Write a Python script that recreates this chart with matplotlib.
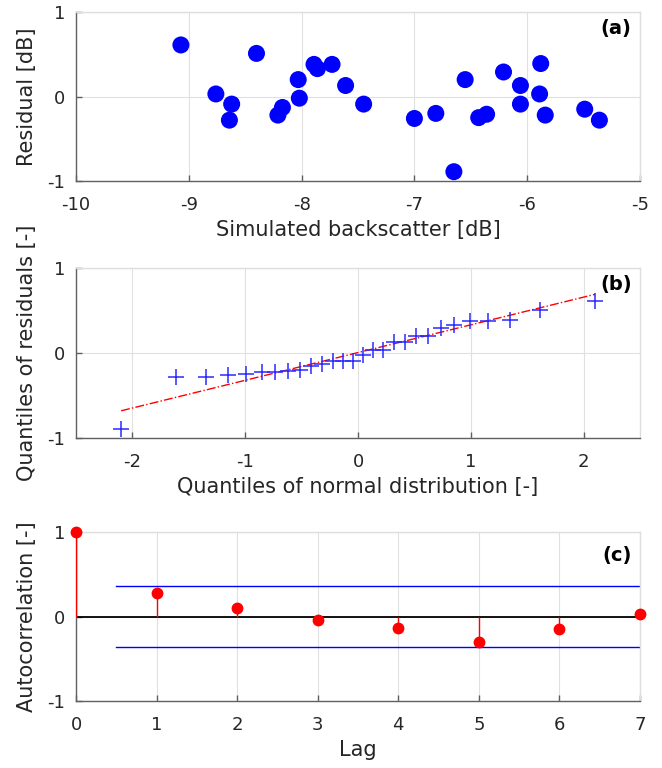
import matplotlib
matplotlib.use("Agg")
import matplotlib.pyplot as plt
import numpy as np

plt.rcParams['font.family'] = ['DejaVu Sans']
plt.rcParams['axes.unicode_minus'] = False

# Panel (a): residual vs simulated backscatter
sim_bs = [-9.07, -8.76, -8.62, -8.64, -8.40, -8.21, -8.17, -8.03, -8.02, -7.89,
          -7.86, -7.73, -7.61, -7.45, -7.00, -6.81, -6.65, -6.55, -6.43, -6.36,
          -6.21, -6.06, -6.06, -5.88, -5.89, -5.84, -5.49, -5.36]
residual = [0.61, 0.03, -0.09, -0.28, 0.51, -0.22, -0.13, 0.20, -0.02, 0.38,
            0.33, 0.38, 0.13, -0.09, -0.26, -0.20, -0.89, 0.20, -0.25, -0.21,
            0.29, 0.13, -0.09, 0.39, 0.03, -0.22, -0.15, -0.28]

# Panel (b): QQ plot
normal_q = [-2.10, -1.61, -1.345, -1.15, -0.992, -0.854, -0.732, -0.619, -0.514, -0.414,
            -0.319, -0.225, -0.135, -0.045, 0.045, 0.135, 0.225, 0.319, 0.414, 0.514,
            0.619, 0.732, 0.854, 0.992, 1.15, 1.345, 1.61, 2.10]
resid_q = [-0.89, -0.28, -0.28, -0.26, -0.25, -0.22, -0.22, -0.21, -0.20, -0.15,
           -0.13, -0.09, -0.09, -0.09, -0.02, 0.03, 0.03, 0.13, 0.13, 0.20,
           0.20, 0.29, 0.33, 0.38, 0.38, 0.39, 0.51, 0.61]
ref_line_x = [-2.10, 2.10]
ref_line_y = [-0.68, 0.69]

# Panel (c): autocorrelation
lags = [0, 1, 2, 3, 4, 5, 6, 7]
acf = [1.0, 0.28, 0.106, -0.04, -0.133, -0.306, -0.149, 0.035]
bound_x = [0.5, 7]
bound = 0.36

fig = plt.figure(figsize=(6.62, 7.68), dpi=100)
W, H = 662, 768
def axes_px(l, r, t, b):
    return fig.add_axes([l / W, 1 - b / H, (r - l) / W, (b - t) / H])

ax1 = axes_px(76, 640, 12, 181)
ax2 = axes_px(76, 640, 268, 438)
ax3 = axes_px(76, 640, 532, 701)

axis_col = '#606060'
text_col = '#262626'
def style(ax):
    for s in ['left', 'bottom']:
        ax.spines[s].set_color(axis_col)
        ax.spines[s].set_linewidth(1.0)
    for s in ['top', 'right']:
        ax.spines[s].set_color('#dedede')
        ax.spines[s].set_linewidth(1.0)
    ax.tick_params(direction='in', length=4, width=1, colors=axis_col,
                   labelsize=13, labelcolor=text_col)
    ax.tick_params(axis='x', pad=11)
    ax.tick_params(axis='y', pad=8)
    ax.grid(True, color='#e0e0e0', linewidth=0.8)
    ax.set_axisbelow(True)

lab_fs = 15

# (a)
style(ax1)
ax1.scatter(sim_bs, residual, s=150, color='#0000ff', edgecolors='none', zorder=3)
ax1.set_xlim(-10, -5)
ax1.set_ylim(-1, 1)
ax1.set_xticks([-10, -9, -8, -7, -6, -5])
ax1.set_yticks([-1, 0, 1])
ax1.set_xlabel('Simulated backscatter [dB]', fontsize=lab_fs, labelpad=4, color=text_col)
ax1.set_ylabel('Residual [dB]', fontsize=lab_fs, labelpad=7, color=text_col)
ax1.text(0.985, 0.96, '(a)', transform=ax1.transAxes, ha='right', va='top',
         fontsize=14, fontweight='bold')

# (b)
style(ax2)
ax2.plot(ref_line_x, ref_line_y, color='#ff0000', linestyle='-.', linewidth=1.0, zorder=2)
ax2.plot(normal_q, resid_q, linestyle='none', marker='+', markersize=12,
         markeredgewidth=1.1, color='#2a2aff', zorder=3)
ax2.set_xlim(-2.5, 2.5)
ax2.set_ylim(-1, 1)
ax2.set_xticks([-2, -1, 0, 1, 2])
ax2.set_yticks([-1, 0, 1])
ax2.set_xlabel('Quantiles of normal distribution [-]', fontsize=lab_fs, labelpad=4, color=text_col)
ax2.set_ylabel('Quantiles of residuals [-]', fontsize=lab_fs, labelpad=7, color=text_col)
ax2.text(0.985, 0.96, '(b)', transform=ax2.transAxes, ha='right', va='top',
         fontsize=14, fontweight='bold')

# (c)
style(ax3)
ax3.axhline(0, color='black', linewidth=1.3, zorder=2)
ax3.plot(bound_x, [bound, bound], color='#0000ff', linewidth=1.0, zorder=2)
ax3.plot(bound_x, [-bound, -bound], color='#0000ff', linewidth=1.0, zorder=2)
ax3.vlines(lags, 0, acf, color='#ff0000', linewidth=1.0, zorder=3)
ax3.plot(lags, acf, linestyle='none', marker='o', markersize=7.5,
         color='#ff0000', zorder=4, clip_on=False)
ax3.set_xlim(0, 7)
ax3.set_ylim(-1, 1)
ax3.set_xticks(lags)
ax3.set_yticks([-1, 0, 1])
ax3.set_xlabel('Lag', fontsize=lab_fs, labelpad=4, color=text_col)
ax3.set_ylabel('Autocorrelation [-]', fontsize=lab_fs, labelpad=7, color=text_col)
ax3.text(0.985, 0.92, '(c)', transform=ax3.transAxes, ha='right', va='top',
         fontsize=14, fontweight='bold')

fig.savefig('out.png', dpi=100)
